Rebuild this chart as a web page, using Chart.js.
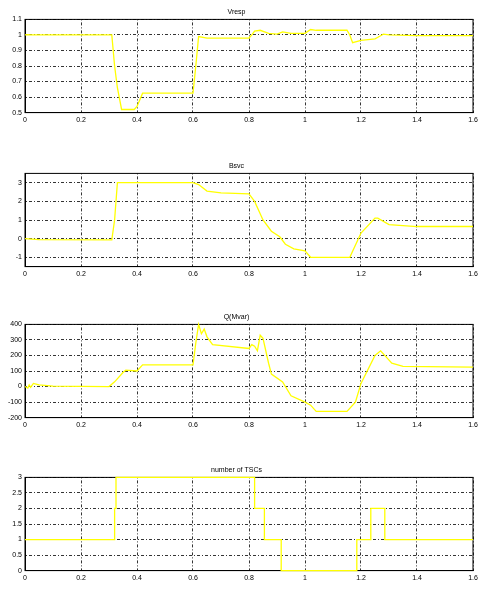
<!DOCTYPE html>
<html><head><meta charset="utf-8">
<script src="https://cdn.jsdelivr.net/npm/chart.js@4"></script>
<style>
body{margin:0;background:#fff;width:483px;height:594px;position:relative;overflow:hidden}
.p{position:absolute;left:0;width:483px}
</style></head><body>
<div class="p" style="top:8px;height:119px"><canvas id="c1"></canvas></div>
<div class="p" style="top:162px;height:119px"><canvas id="c2"></canvas></div>
<div class="p" style="top:313px;height:119px"><canvas id="c3"></canvas></div>
<div class="p" style="top:466px;height:119px"><canvas id="c4"></canvas></div>
<script>
// Vresp
const vT = [0,0.01,0.02,0.31,0.32,0.33,0.345,0.39,0.40,0.42,0.60,0.61,0.62,0.65,0.8,0.81,0.82,0.84,0.87,0.9,0.92,0.95,1.0,1.02,1.04,1.15,1.16,1.17,1.2,1.25,1.27,1.28,1.3,1.4,1.6];
const vY = [1,1.002,1,1,0.8,0.66,0.52,0.52,0.54,0.625,0.625,0.8,0.99,0.98,0.98,1.0,1.025,1.03,1.01,1.005,1.02,1.01,1.01,1.035,1.03,1.03,1.0,0.95,0.965,0.975,0.995,1.005,1.0,0.995,0.995];
const vTicks = [0.5,0.6,0.7,0.8,0.9,1,1.1];
// Bsvc
const bT = [0,0.05,0.31,0.32,0.33,0.6,0.62,0.65,0.7,0.8,0.82,0.85,0.88,0.91,0.93,0.96,1.0,1.02,1.16,1.2,1.25,1.26,1.3,1.4,1.6];
const bY = [0,-0.05,-0.07,1.0,3,3,2.9,2.55,2.45,2.4,2.0,1.0,0.4,0.1,-0.3,-0.55,-0.65,-1,-1,0.3,1.1,1.1,0.75,0.65,0.65];
const bTicks = [-1,0,1,2,3];
// Q(Mvar)
const qT = [0,0.01,0.015,0.02,0.03,0.05,0.1,0.3,0.32,0.35,0.36,0.4,0.42,0.6,0.61,0.62,0.63,0.64,0.65,0.67,0.8,0.81,0.82,0.83,0.84,0.85,0.87,0.88,0.92,0.95,1.0,1.02,1.04,1.15,1.18,1.2,1.25,1.27,1.31,1.35,1.6];
const qY = [0,-10,10,-5,20,10,2,0,30,90,105,100,140,140,280,400,340,370,320,270,245,270,260,230,330,310,150,80,30,-60,-100,-120,-160,-160,-100,20,200,230,150,130,125];
const qTicks = [-200,-100,0,100,200,300,400];
// number of TSCs
const nT = [0,0.32,0.32,0.325,0.325,0.82,0.82,0.855,0.855,0.915,0.915,1.185,1.185,1.235,1.235,1.285,1.285,1.6];
const nY = [1,1,2,2,3,3,2,2,1,1,0,0,1,1,2,2,1,1];
const nTicks = [0,0.5,1,1.5,2,2.5,3];

const xTicks = [0,0.2,0.4,0.6,0.8,1,1.2,1.4,1.6];
const font = {family:'Liberation Sans', size:7};
const grid = {color:'#000', lineWidth:0.8, drawTicks:false};
const border = {display:true, color:'#000', width:1, dash:[1,2,3,2]};
const fmt = v => String(+(+v).toFixed(2));

function panel(id, title, t, y, ymin, ymax, yt){
  new Chart(document.getElementById(id), {
    type:'line',
    data:{datasets:[{data:t.map((v,i)=>({x:v,y:y[i]})), borderColor:'#ffff00', borderWidth:1.3, pointRadius:0, tension:0, clip:4}]},
    options:{
      responsive:true, maintainAspectRatio:false, animation:false,
      layout:{padding:{right:10,left:0}},
      plugins:{legend:{display:false}, tooltip:{enabled:false},
        title:{display:true, text:title, color:'#000', font:{family:'Liberation Sans', size:7, weight:'normal'}, padding:{top:0,bottom:3}}},
      scales:{
        x:{type:'linear', min:0, max:1.6, afterBuildTicks:a=>{a.ticks=xTicks.map(v=>({value:v}));},
          grid:grid, border:border,
          ticks:{color:'#000', font:font, padding:3, maxRotation:0, callback:fmt}},
        y:{min:ymin, max:ymax, afterFit:a=>{a.width=25;},
          afterBuildTicks:a=>{a.ticks=yt.map(v=>({value:v}));},
          grid:grid, border:border,
          ticks:{color:'#000', font:font, padding:3, callback:fmt}}
      }
    },
    plugins:[{id:'frame',beforeDatasetsDraw(c){const a=c.chartArea,x=c.ctx;x.save();x.strokeStyle='#000';x.lineWidth=1;x.strokeRect(a.left,a.top,a.right-a.left,a.bottom-a.top);x.restore();}}]
  });
}
panel('c1','Vresp',vT,vY,0.5,1.1,vTicks);
panel('c2','Bsvc',bT,bY,-1.5,3.5,bTicks);
panel('c3','Q(Mvar)',qT,qY,-200,400,qTicks);
panel('c4','number of TSCs',nT,nY,0,3,nTicks);
</script></body></html>
